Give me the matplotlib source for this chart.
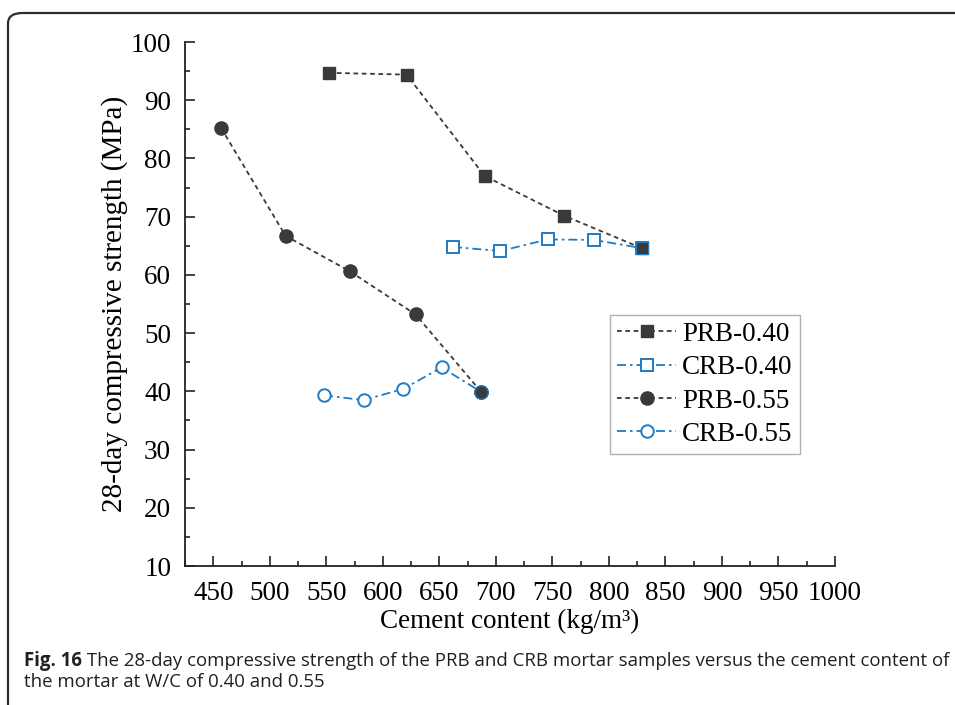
import matplotlib
matplotlib.use("Agg")
import matplotlib.pyplot as plt
from matplotlib.patches import FancyBboxPatch
from matplotlib.ticker import MultipleLocator

# Cement content (kg/m3) and 28-day compressive strength (MPa)
prb040_x = [552, 621, 690, 760, 829]
prb040_y = [94.7, 94.4, 77.0, 70.2, 64.6]
crb040_x = [662, 704, 746, 787, 829]
crb040_y = [64.8, 64.1, 66.1, 66.0, 64.6]
prb055_x = [457, 514, 571, 629, 687]
prb055_y = [85.2, 66.7, 60.6, 53.2, 39.9]
crb055_x = [548, 583, 618, 652, 687]
crb055_y = [39.3, 38.5, 40.4, 44.1, 39.9]

x_ticks = list(range(450, 1001, 50))
y_ticks = list(range(10, 101, 10))

W, H = 955, 705
fig = plt.figure(figsize=(W / 100, H / 100), dpi=100)
fig.patch.set_facecolor("white")

serif = ["Liberation Serif", "DejaVu Serif"]
dark = "#3a3a3a"
blue = "#1f7bc4"

# rounded frame around figure + caption
frame = FancyBboxPatch((8 / W, -0.1), 1.1, (H - 13) / H + 0.1,
                       boxstyle="round,pad=0,rounding_size=0.015",
                       transform=fig.transFigure, facecolor="none",
                       edgecolor="#2b2b2b", linewidth=1.6, clip_on=False)
fig.patches.append(frame)

ax = fig.add_axes([185 / W, 1 - 566 / H, 650 / W, 524 / H])
ax.set_facecolor("none")

dash = (0, (2.6, 2.0))
dashdot = (0, (5.0, 2.2, 1.4, 2.2))

ax.plot(prb040_x, prb040_y, linestyle=dash, color=dark, lw=1.3,
        marker="s", ms=8.5, mfc=dark, mec=dark, label="PRB-0.40")
ax.plot(crb040_x, crb040_y, linestyle=dashdot, color=blue, lw=1.3,
        marker="s", ms=8.5, mfc="white", mec=blue, mew=1.4, label="CRB-0.40")
ax.plot(prb055_x, prb055_y, linestyle=dash, color=dark, lw=1.3,
        marker="o", ms=9.5, mfc=dark, mec=dark, label="PRB-0.55")
ax.plot(crb055_x, crb055_y, linestyle=dashdot, color=blue, lw=1.3,
        marker="o", ms=9.0, mfc="white", mec=blue, mew=1.4, label="CRB-0.55")
# solid markers on the shared end points sit above the open ones
ax.plot(prb040_x[-1:], prb040_y[-1:], linestyle="none", marker="s", ms=8.5,
        mfc=dark, mec=blue, mew=0.8)
ax.plot(prb055_x[-1:], prb055_y[-1:], linestyle="none", marker="o", ms=9.5,
        mfc=dark, mec=blue, mew=0.8)

ax.set_xlim(425, 1000)
ax.set_ylim(10, 100)
ax.set_xticks(x_ticks)
ax.set_yticks(y_ticks)
ax.xaxis.set_minor_locator(MultipleLocator(25))
ax.yaxis.set_minor_locator(MultipleLocator(5))

for s in ("top", "right"):
    ax.spines[s].set_visible(False)
for s in ("left", "bottom"):
    ax.spines[s].set_linewidth(1.3)
    ax.spines[s].set_color("#222222")

ax.tick_params(which="major", direction="in", length=7, width=1.2,
               color="#222222", labelsize=19.5)
ax.tick_params(which="minor", direction="in", length=3.5, width=1.2,
               color="#222222")
ax.tick_params(axis="x", which="major", pad=10.5)
ax.tick_params(axis="y", which="major", pad=10)
for lab in ax.get_xticklabels() + ax.get_yticklabels():
    lab.set_family(serif)

ax.set_xlabel("Cement content (kg/m³)", family=serif, fontsize=19.5)
ax.set_ylabel("28-day compressive strength (MPa)", family=serif, fontsize=21)
ax.xaxis.set_label_coords(0.5, -0.105)
ax.yaxis.set_label_coords(-0.108, 0.5)
ax.xaxis.label.set_va("center")
ax.yaxis.label.set_va("center")

leg = ax.legend(loc="upper left", bbox_to_anchor=(610 / W, 1 - 315 / H),
                bbox_transform=fig.transFigure, borderaxespad=0,
                prop={"family": serif, "size": 19.5}, frameon=True,
                fancybox=False, edgecolor="#b0b0b0", framealpha=1,
                handlelength=2.2, handletextpad=0.22, labelspacing=0.31,
                borderpad=0.25)
leg.get_frame().set_linewidth(1.0)

# caption
cap_font = ["Open Sans", "DejaVu Sans"]
cap_size = 12.5
ink = "#231f20"
fig.canvas.draw()
renderer = fig.canvas.get_renderer()
x0 = 24 / W
t1 = fig.text(x0, 1 - 661 / H, "Fig. 16", family=cap_font, weight="bold",
              fontsize=cap_size, va="center", color=ink)
bb = t1.get_window_extent(renderer)
rest = (" The 28-day compressive strength of the PRB and CRB mortar samples "
        "versus the cement content of")
t2 = fig.text(bb.x1 / W, 1 - 661 / H, rest, family=cap_font,
              fontsize=cap_size, va="center", color=ink)
t3 = fig.text(x0, 1 - 682 / H, "the mortar at W/C of 0.40 and 0.55",
              family=cap_font, fontsize=cap_size, va="center", color=ink)

# size caption text so the first line ends near the right edge
bb2 = t2.get_window_extent(renderer)
target = 950
scale = (target - 24) / (bb2.x1 - 24)
new = cap_size * scale
for t in (t1, t2, t3):
    t.set_fontsize(new)
fig.canvas.draw()
bb = t1.get_window_extent(renderer)
t2.set_x(bb.x1 / W)

fig.savefig("out.png", dpi=100, facecolor="white")
